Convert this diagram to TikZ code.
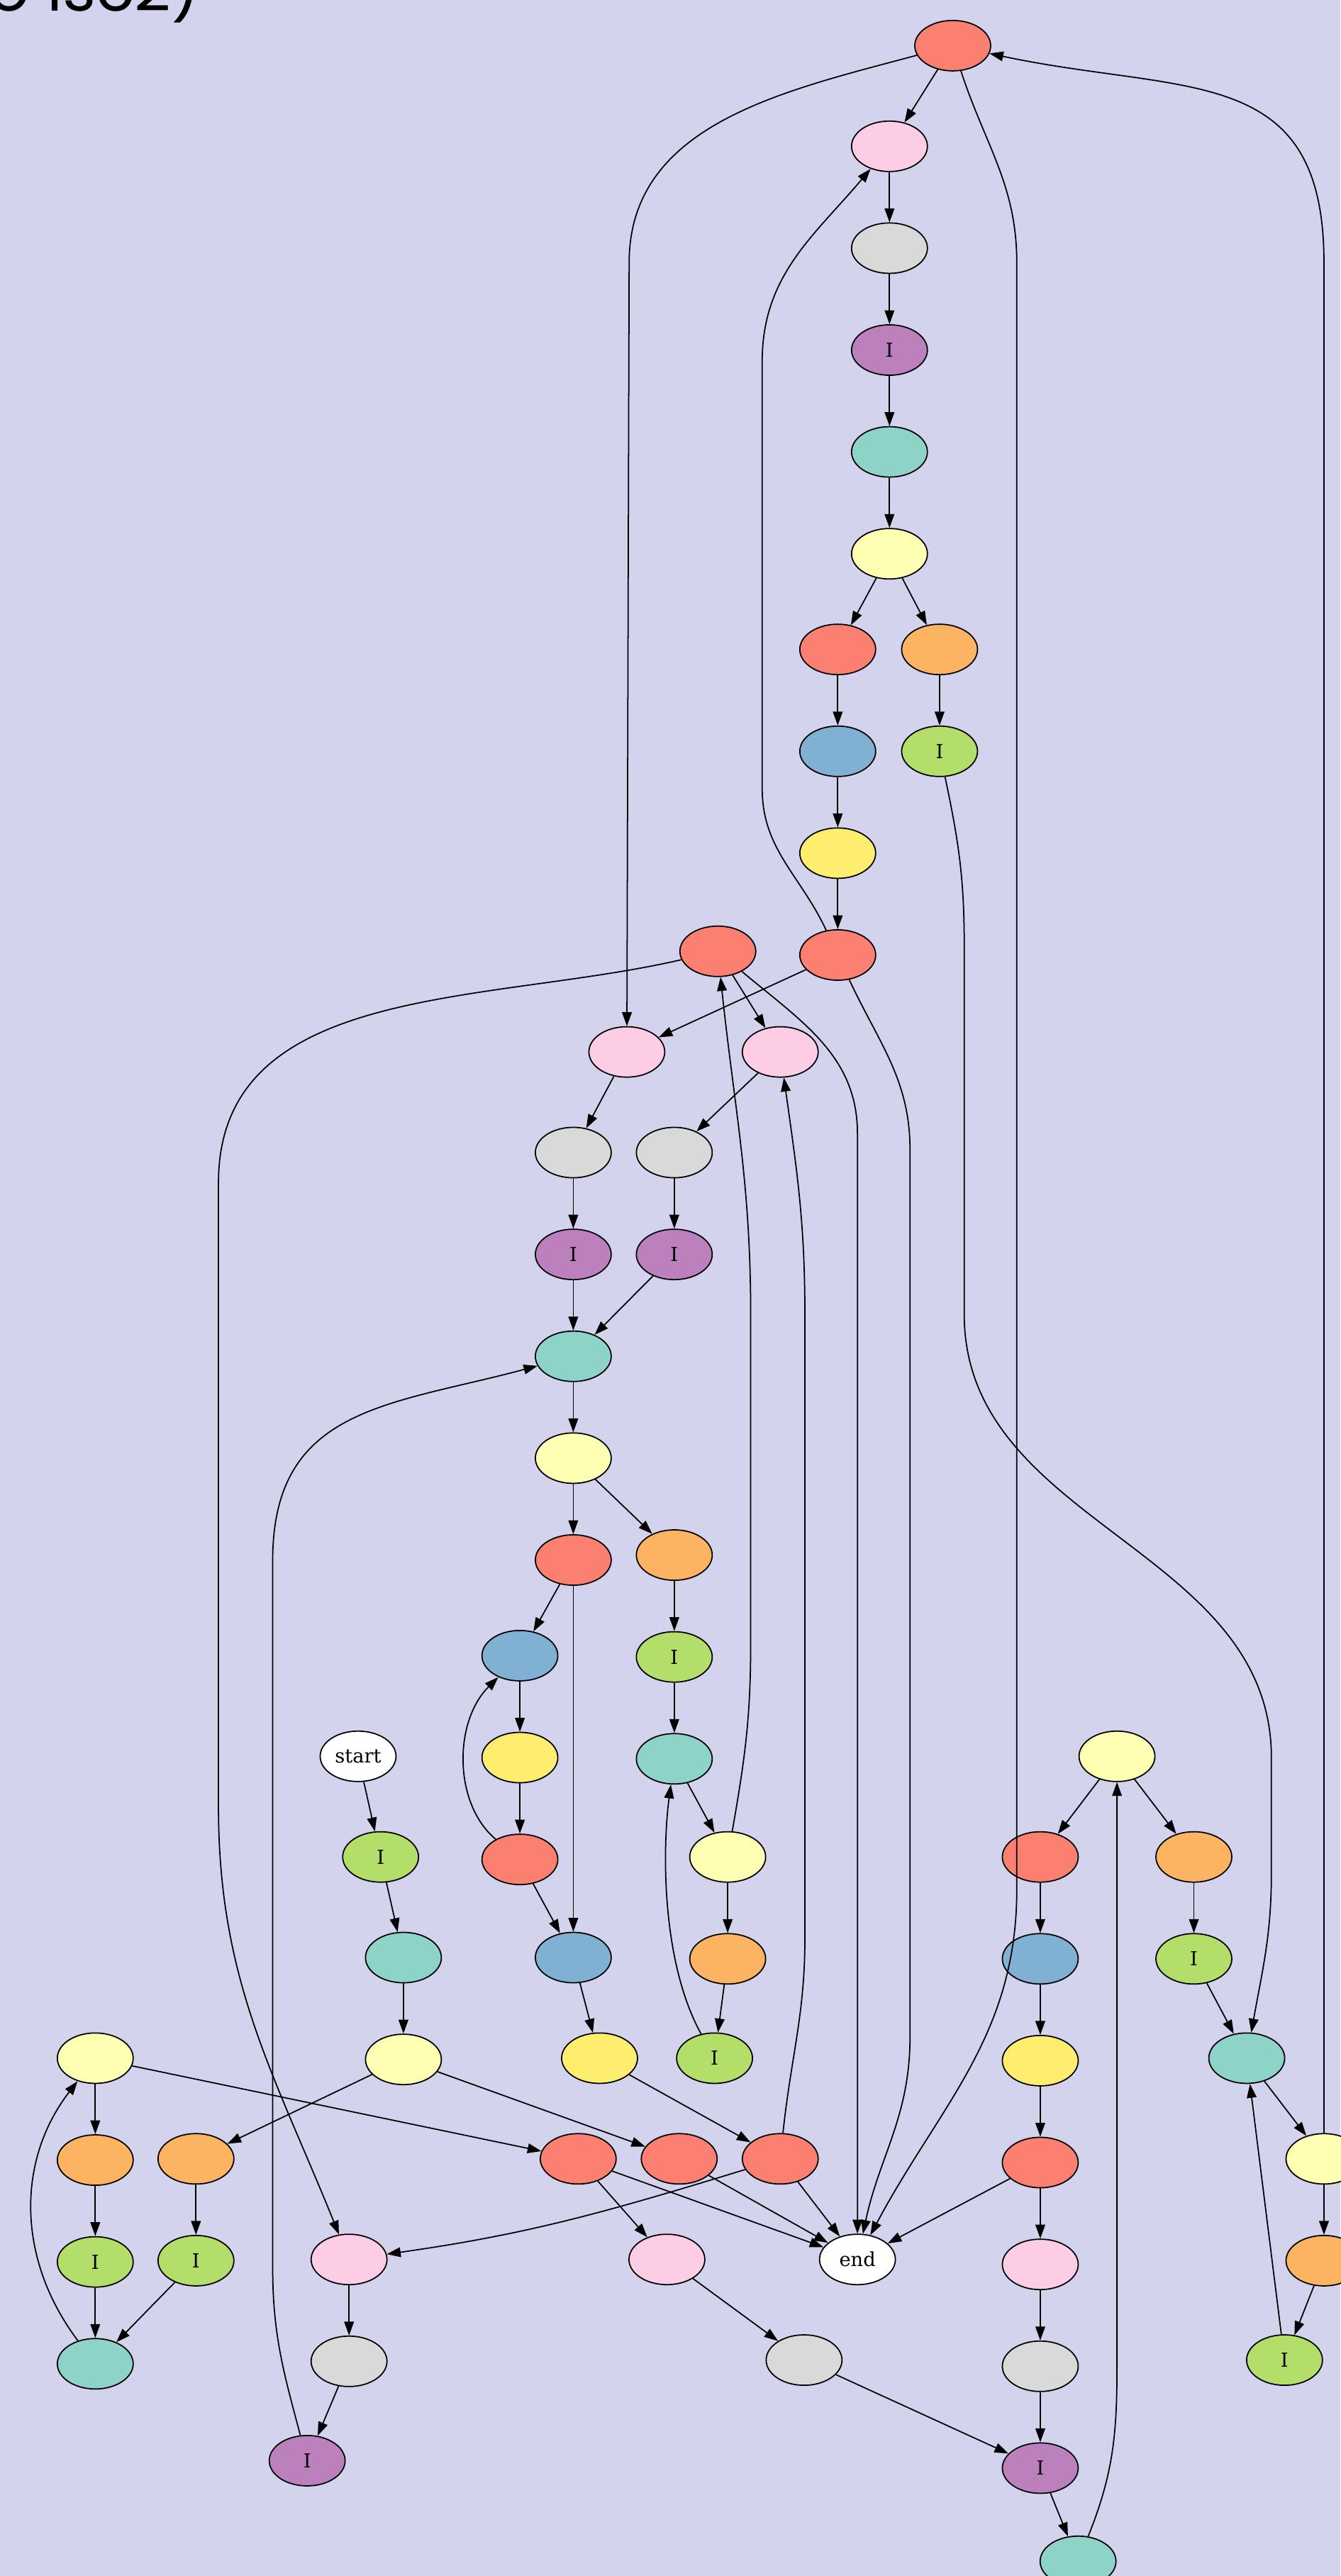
\documentclass[tikz,border=0pt]{standalone}
\usepackage{fontspec}
\setmainfont{DejaVu Serif}
\newfontfamily\titlefont{Poppins}
\usepackage{tikz}
\usetikzlibrary{positioning,arrows.meta,shapes.geometric}

\definecolor{bgpage}{RGB}{211,211,238}
\definecolor{csalmon}{HTML}{FB8072}
\definecolor{cblush}{HTML}{FCCDE5}
\definecolor{cash}{HTML}{D9D9D9}
\definecolor{cplum}{HTML}{BC80BD}
\definecolor{cmint}{HTML}{8DD3C7}
\definecolor{ccream}{HTML}{FFFFB3}
\definecolor{capricot}{HTML}{FDB462}
\definecolor{csteel}{HTML}{80B1D3}
\definecolor{cgrass}{HTML}{B3DE69}
\definecolor{cbutter}{HTML}{FFED6F}

\begin{document}
\begin{tikzpicture}[
  x=0.0417cm, y=-0.0417cm,
  node distance=1.274cm and 1cm,
  blob/.style={ellipse, draw=black, line width=0.9pt, minimum width=1.926cm, minimum height=1.28cm, inner sep=0pt, font=\fontsize{14}{16}\selectfont},
  salmon/.style={blob, fill=csalmon},
  blush/.style={blob, fill=cblush},
  ash/.style={blob, fill=cash},
  plum/.style={blob, fill=cplum},
  mint/.style={blob, fill=cmint},
  cream/.style={blob, fill=ccream},
  apricot/.style={blob, fill=capricot},
  steel/.style={blob, fill=csteel},
  grass/.style={blob, fill=cgrass},
  butter/.style={blob, fill=cbutter},
  terminal/.style={blob, fill=white},
  arrow/.style={-{Triangle[length=10pt,width=7pt]}, line width=0.9pt}
  ]
  \fill[bgpage] (0,0) rectangle (816,1568);
  \useasboundingbox (0,0) rectangle (816,1568);
  \node[anchor=base east, inner sep=0pt, font=\titlefont\fontsize{46}{52}\selectfont] (title) at (122,6.5) {o lsc2)};

  % Top column
  \node[salmon] (r1) at (580,27.8) {};
  \node[blush] (p1) at (541.5,89.05) {};
  \node[ash, below=of p1] (g1) {};
  \node[plum, below=of g1] (u1) {I};
  \node[mint, below=of u1] (t1) {};
  \node[cream, below=of t1] (c1) {};
  \node[salmon] (r2) at (510,395.3) {};
  \node[apricot] (o1) at (572,395.3) {};
  \node[steel, below=of r2] (b1) {};
  \node[grass, below=of o1] (i1) {I};
  \node[butter, below=of b1] (y1) {};

  % Middle block
  \node[salmon] (r3) at (437,579.05) {};
  \node[salmon, below=of y1] (r4) {};
  \node[blush] (p2) at (381.6,640.3) {};
  \node[blush] (p3) at (475,640.3) {};
  \node[ash] (g2) at (349,701.55) {};
  \node[ash] (g3) at (410.5,701.55) {};
  \node[plum, below=of g2] (u2) {I};
  \node[plum, below=of g3] (u3) {I};
  \node[mint, below=of u2] (t2) {};
  \node[cream, below=of t2] (c2) {};
  \node[salmon, below=of c2] (r5) {};
  \node[apricot] (o2) at (410.5,946.55) {};
  \node[steel] (b2) at (316.5,1007.8) {};
  \node[grass, below=of o2] (i2) {I};

  % Lower rows
  \node[terminal] (start) at (218,1069.05) {start};
  \node[butter, below=of b2] (y2) {};
  \node[mint, below=of i2] (t3) {};
  \node[cream] (c3) at (680,1069.05) {};
  \node[grass] (i3) at (231.7,1130.3) {I};
  \node[salmon, below=of y2] (r6) {};
  \node[cream] (c4) at (443,1130.3) {};
  \node[salmon] (r7) at (633.3,1130.3) {};
  \node[apricot] (o3) at (726.8,1130.3) {};
  \node[mint] (t4) at (245.6,1191.55) {};
  \node[steel] (b3) at (349,1191.55) {};
  \node[apricot, below=of c4] (o4) {};
  \node[steel, below=of r7] (b4) {};
  \node[grass, below=of o3] (i4) {I};
  \node[cream] (c5) at (58,1252.8) {};
  \node[cream, below=of t4] (c6) {};
  \node[butter] (y3) at (365,1252.8) {};
  \node[grass] (i5) at (435,1252.8) {I};
  \node[butter, below=of b4] (y4) {};
  \node[mint] (t5) at (759,1252.8) {};
  \node[apricot, below=of c5] (o5) {};
  \node[apricot] (o6) at (119.3,1314.05) {};
  \node[salmon] (r8) at (352,1314.05) {};
  \node[salmon] (r9) at (413.5,1314.05) {};
  \node[salmon] (r10) at (475,1314.05) {};
  \node[salmon, below=of y4] (r11) {};
  \node[cream] (c7) at (806,1314.05) {};
  \node[grass, below=of o5] (i6) {I};
  \node[grass, below=of o6] (i7) {I};
  \node[blush] (p4) at (212.5,1375.3) {};
  \node[blush] (p5) at (406,1375.3) {};
  \node[terminal] (end) at (522,1375.3) {end};
  \node[blush, below=of r11] (p6) {};
  \node[apricot, below=of c7] (o7) {};
  \node[mint, below=of i6] (t6) {};
  \node[ash, below=of p4] (g4) {};
  \node[ash] (g5) at (489.5,1436.55) {};
  \node[ash, below=of p6] (g6) {};
  \node[grass] (i8) at (782,1436.55) {I};
  \node[plum] (u4) at (187,1497.8) {I};
  \node[plum, below=of g6] (u5) {I};
  \node[mint] (t7) at (656.3,1559.05) {};

  % Short edges
  \draw[arrow] (r1) -- (p1);
  \draw[arrow] (p1) -- (g1);
  \draw[arrow] (g1) -- (u1);
  \draw[arrow] (u1) -- (t1);
  \draw[arrow] (t1) -- (c1);
  \draw[arrow] (c1) -- (r2);
  \draw[arrow] (c1) -- (o1);
  \draw[arrow] (r2) -- (b1);
  \draw[arrow] (o1) -- (i1);
  \draw[arrow] (b1) -- (y1);
  \draw[arrow] (y1) -- (r4);
  \draw[arrow] (r4) -- (p2);
  \draw[arrow] (r3) -- (p3);
  \draw[arrow] (p2) -- (g2);
  \draw[arrow] (p3) -- (g3);
  \draw[arrow] (g2) -- (u2);
  \draw[arrow] (g3) -- (u3);
  \draw[arrow] (u2) -- (t2);
  \draw[arrow] (u3) -- (t2);
  \draw[arrow] (t2) -- (c2);
  \draw[arrow] (c2) -- (r5);
  \draw[arrow] (c2) -- (o2);
  \draw[arrow] (r5) -- (b2);
  \draw[arrow] (r5) -- (b3);
  \draw[arrow] (o2) -- (i2);
  \draw[arrow] (i2) -- (t3);
  \draw[arrow] (b2) -- (y2);
  \draw[arrow] (y2) -- (r6);
  \draw[arrow] (r6) -- (b3);
  \draw[arrow] (t3) -- (c4);
  \draw[arrow] (c4) -- (o4);
  \draw[arrow] (o4) -- (i5);
  \draw[arrow] (b3) -- (y3);
  \draw[arrow] (y3) -- (r10);
  \draw[arrow] (r10) -- (end);
  \draw[arrow] (start) -- (i3);
  \draw[arrow] (i3) -- (t4);
  \draw[arrow] (t4) -- (c6);
  \draw[arrow] (c6) -- (o6);
  \draw[arrow] (c6) -- (r9);
  \draw[arrow] (c5) -- (o5);
  \draw[arrow] (c5) -- (r8);
  \draw[arrow] (o5) -- (i6);
  \draw[arrow] (o6) -- (i7);
  \draw[arrow] (i6) -- (t6);
  \draw[arrow] (i7) -- (t6);
  \draw[arrow] (r8) -- (p5);
  \draw[arrow] (r8) -- (end);
  \draw[arrow] (r9) -- (end);
  \draw[arrow] (p5) -- (g5);
  \draw[arrow] (g5) -- (u5);
  \draw[arrow] (p4) -- (g4);
  \draw[arrow] (g4) -- (u4);
  \draw[arrow] (c3) -- (r7);
  \draw[arrow] (c3) -- (o3);
  \draw[arrow] (r7) -- (b4);
  \draw[arrow] (b4) -- (y4);
  \draw[arrow] (y4) -- (r11);
  \draw[arrow] (r11) -- (end);
  \draw[arrow] (r11) -- (p6);
  \draw[arrow] (p6) -- (g6);
  \draw[arrow] (g6) -- (u5);
  \draw[arrow] (u5) -- (t7);
  \draw[arrow] (o3) -- (i4);
  \draw[arrow] (i4) -- (t5);
  \draw[arrow] (t5) -- (c7);
  \draw[arrow] (c7) -- (o7);
  \draw[arrow] (o7) -- (i8);
  \draw[arrow] (i8) -- (t5);

  % Long edges
  \draw[arrow] (r1) to[out=195,in=90] (383,160) -- (p2);
  \draw[arrow] (r1) to[out=-72,in=90] (619,160) -- (619,1150) to[out=-90,in=62] (end);
  \draw[arrow] (c7) -- (806,160) to[out=90,in=-12,looseness=1.3] (r1);
  \draw[arrow] (r4) to[out=115,in=-90] (464,480) -- (464,220) to[out=90,in=-130] (p1);
  \draw[arrow] (r4) to[out=-65,in=90] (554,700) -- (554,1240) to[out=-90,in=78] (end);
  \draw[arrow] (i1) to[out=-78,in=90] (587,575) -- (587,800) to[out=-90,in=90] (774,1070) -- (774,1140) to[out=-90,in=80] (t5);
  \draw[arrow] (r3) to[out=193,in=90] (133,720) -- (133,1100) to[out=-90,in=112] (p4);
  \draw[arrow] (r3) to[out=-40,in=90] (522,690) -- (end);
  \draw[arrow] (c4) to[out=80,in=-90] (457,1000) -- (457,800) to[out=90,in=-84] (r3);
  \draw[arrow] (r10) to[out=84,in=-90] (490,1180) -- (490,800) to[out=90,in=-82] (p3);
  \draw[arrow] (r10) to[out=197,in=8] (p4);
  \draw[arrow] (u4) to[out=105,in=-90] (166,1380) -- (166,950) to[out=90,in=195,looseness=1.2] (t2);
  \draw[arrow] (r6) .. controls (276,1098) and (276,1048) .. (b2);
  \draw[arrow] (i5) .. controls (403,1195) and (403,1127) .. (t3);
  \draw[arrow] (t6) .. controls (10,1375) and (10,1315) .. (c5);
  \draw[arrow] (t7) to[out=68,in=-90] (680,1440) -- (c3);
\end{tikzpicture}
\end{document}
